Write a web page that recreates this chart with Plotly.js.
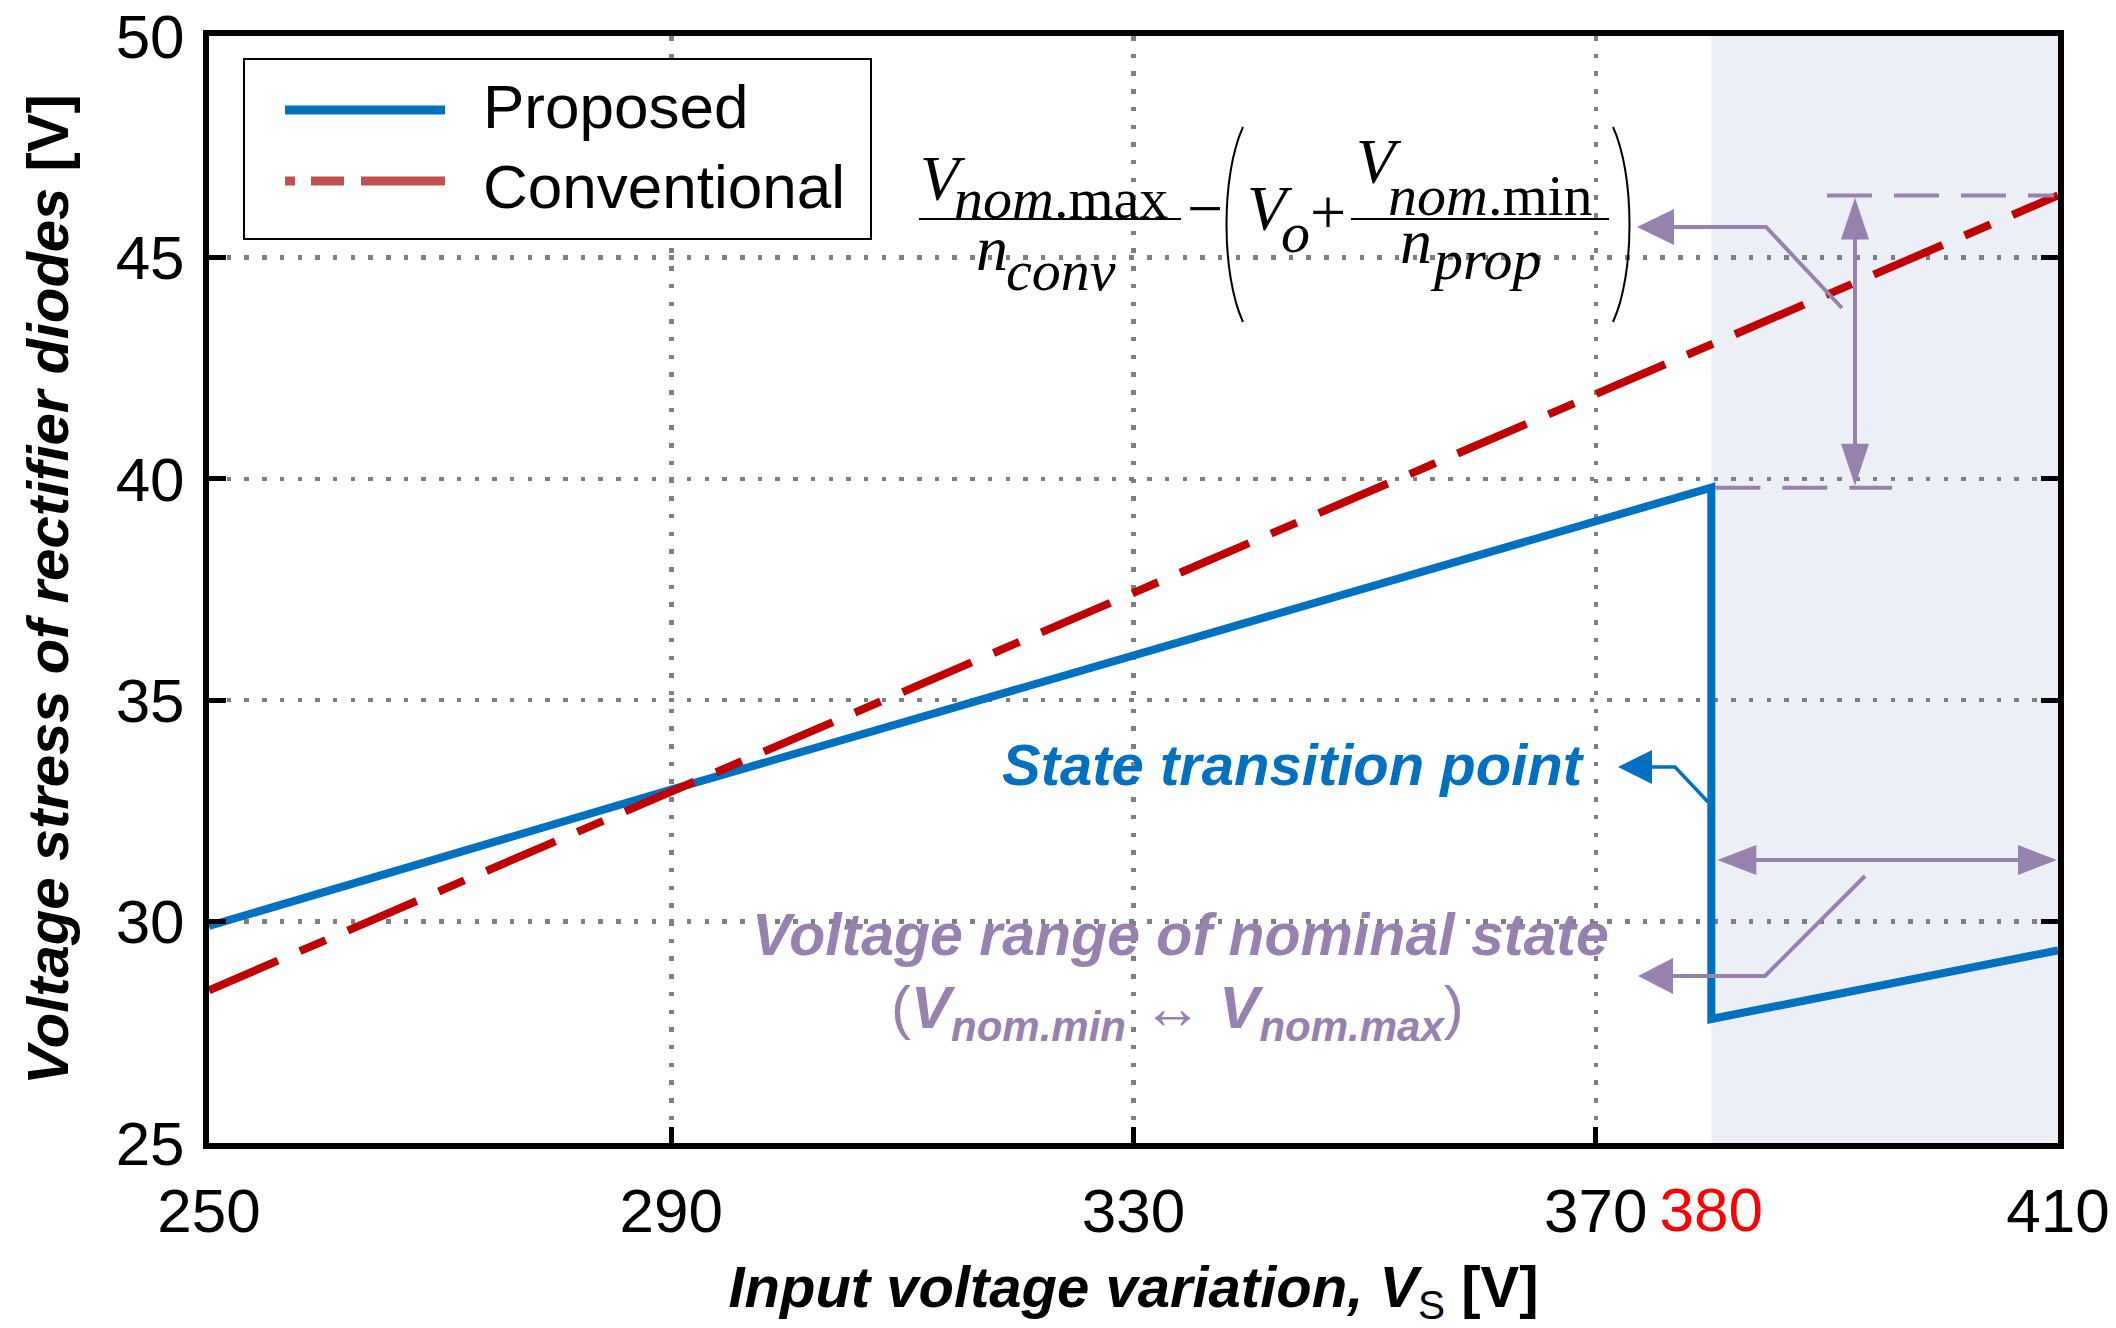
<!DOCTYPE html>
<html><head><meta charset="utf-8">
<script src="https://cdn.plot.ly/plotly-3.0.1.min.js"></script>
<style>html,body{margin:0;padding:0;background:#fff}</style>
</head><body><div id="chart" style="width:2116px;height:1328px"></div>
<script>
// ---- data ----
const proposedX = [250, 290, 380, 380, 410];
const proposedY = [29.9, 32.98, 39.8, 27.8, 29.35];
const conventionalX = [250, 410];
const conventionalY = [28.45, 46.4];
const xTickVals = [250, 290, 330, 370, 410];
const xTickText = ['250', '290', '330', '370', '410'];
const transitionTickVals = [380];
const transitionTickText = ['380'];
const yTickVals = [25, 30, 35, 40, 45, 50];
const yTickText = ['25', '30', '35', '40', '45', '50'];
const seriesNames = ['Proposed', 'Conventional'];
const xRange = [250, 410];
const yRange = [25, 50];

// ---- geometry helpers ----
const W = 2116, H = 1328, ML = 209, MR = 58, MT = 36, MB = 185;
const PW = W - ML - MR, PH = H - MT - MB;
const px = v => (v - ML) / PW;
const py = v => 1 - (v - MT) / PH;
const xPix = v => ML + (v - xRange[0]) / (xRange[1] - xRange[0]) * PW;
const yPix = v => MT + (yRange[1] - v) / (yRange[1] - yRange[0]) * PH;

const SANS = 'Liberation Sans, Arial, sans-serif';
const SERIF = 'Liberation Serif, Times New Roman, serif';
const BLUE = '#0070C0', RED = '#C00000', LEGRED = '#C0504D', PURPLE = '#9781AF';

const annotations = [];
const shapes = [];

function txt(text, x, baseline, size, opt) {
  opt = opt || {};
  const serif = opt.serif;
  const c = serif ? 0.3375 : 0.3465;
  annotations.push({
    xref: 'paper', yref: 'paper', x: px(x), y: py(baseline - c * size),
    xanchor: opt.anchor || 'left', yanchor: 'middle', showarrow: false,
    borderpad: 0, align: opt.align || 'center',
    text: text,
    font: {family: serif ? SERIF : SANS, size: size, color: opt.color || '#000'}
  });
}
function poly(points, color, width, dash, closed, fill) {
  let d = points.map((p, i) => (i ? 'L' : 'M') + px(p[0]) + ',' + py(p[1])).join(' ');
  if (closed) d += ' Z';
  const s = {type: 'path', xref: 'paper', yref: 'paper', path: d, layer: 'above',
             line: {color: color, width: width}};
  if (dash) s.line.dash = dash;
  if (fill) { s.fillcolor = fill; s.line.width = 0; }
  shapes.push(s);
}
function curve(d, color, width) {
  shapes.push({type: 'path', xref: 'paper', yref: 'paper', path: d, layer: 'above',
               line: {color: color, width: width}});
}
function head(tip, dir, len, half, color) {
  const [x, y] = tip;
  let pts;
  if (dir === 'left') pts = [[x, y], [x + len, y - half], [x + len, y + half]];
  if (dir === 'right') pts = [[x, y], [x - len, y - half], [x - len, y + half]];
  if (dir === 'up') pts = [[x, y], [x - half, y + len], [x + half, y + len]];
  if (dir === 'down') pts = [[x, y], [x - half, y - len], [x + half, y - len]];
  poly(pts, color, 0, null, true, color);
}

// ---- nominal-state shading ----
shapes.push({type: 'rect', xref: 'x', yref: 'paper', x0: transitionTickVals[0], x1: xRange[1],
             y0: 0, y1: 1, fillcolor: '#ECF0F6', line: {width: 0}, layer: 'below'});

// ---- legend (drawn by hand for long line samples) ----
shapes.push({type: 'rect', xref: 'paper', yref: 'paper', x0: px(244), x1: px(871), y0: py(239), y1: py(59),
             fillcolor: '#ffffff', line: {color: '#000', width: 2}, layer: 'above'});
poly([[285, 110], [445, 110]], BLUE, 9);
poly([[285, 181], [445, 181]], LEGRED, 9, '10px,16px,33px,17px,85px,60px');
txt(seriesNames[0], 482, 128, 62);
txt(seriesNames[1], 482, 208, 62);

// ---- formula ----
txt('<i>V</i>', 919, 200, 64, {serif: true});
txt('<i>nom</i>.max', 953, 218, 58, {serif: true});
poly([[919, 219], [1181, 219]], '#000', 2);
txt('<i>n</i>', 975, 270, 64, {serif: true});
txt('<i>conv</i>', 1005, 290, 58, {serif: true});
txt('\u2212', 1205, 230, 64, {serif: true, anchor: 'center'});
curve('M' + px(1243) + ',' + py(127) + ' C' + px(1221) + ',' + py(175) + ' ' + px(1221) + ',' + py(274) + ' ' + px(1243) + ',' + py(322), '#000', 2);
txt('<i>V</i>', 1246, 230, 64, {serif: true});
txt('<i>o</i>', 1280, 252, 58, {serif: true});
txt('+', 1328, 234, 64, {serif: true, anchor: 'center'});
poly([[1351, 219], [1609, 219]], '#000', 2);
txt('<i>V</i>', 1355, 183, 64, {serif: true});
txt('<i>nom</i>.min', 1387, 215, 58, {serif: true});
txt('<i>n</i>', 1399, 263, 64, {serif: true});
txt('<i>prop</i>', 1429, 279, 58, {serif: true});
curve('M' + px(1613) + ',' + py(127) + ' C' + px(1635) + ',' + py(175) + ' ' + px(1635) + ',' + py(274) + ' ' + px(1613) + ',' + py(322), '#000', 2);

// ---- purple dimension arrows tied to data ----
const yTop = yPix(conventionalY[1]);
const yBot = yPix(proposedY[2]);
const xT = xPix(transitionTickVals[0]);
const xEnd = xPix(xRange[1]);
poly([[1827, yTop], [xEnd - 4, yTop]], PURPLE, 4, '45px,22px');
poly([[xT + 4, yBot], [1892, yBot]], PURPLE, 4, '45px,22px');
poly([[1855, yTop + 40], [1855, yBot - 40]], PURPLE, 4);
head([1855, yTop + 2], 'up', 42, 14, PURPLE);
head([1855, yBot - 2], 'down', 42, 14, PURPLE);
poly([[1842, 308], [1766, 227], [1670, 227]], PURPLE, 4);
head([1637, 227], 'left', 37, 18, PURPLE);
const yR = 860;
poly([[xT + 40, yR], [xEnd - 40, yR]], PURPLE, 4);
head([xT + 6, yR], 'left', 39, 15, PURPLE);
head([xEnd - 1, yR], 'right', 39, 15, PURPLE);
poly([[1865, 876], [1765, 976], [1670, 976]], PURPLE, 4);
head([1638, 976], 'left', 35, 18, PURPLE);
poly([[1708, 802], [1675, 767], [1648, 767]], BLUE, 3.5);
head([1618, 767], 'left', 34, 17, BLUE);

// ---- text labels ----
txt('<b><i>State transition point</i></b>', 1586, 785, 58, {color: BLUE, anchor: 'right'});
txt('<b><i>Voltage range of nominal state</i></b>', 1180, 955, 59, {color: PURPLE, anchor: 'center'});
txt('(<b><i>V</i></b><sub><b><i>nom.min</i></b></sub> \u2194 <b><i>V</i></b><sub><b><i>nom.max</i></b></sub>)', 1177, 1033, 60, {color: PURPLE, anchor: 'center'});

const traces = [
  {x: proposedX, y: proposedY, mode: 'lines', name: seriesNames[0], showlegend: false,
   line: {color: BLUE, width: 8}, hoverinfo: 'skip'},
  {x: conventionalX, y: conventionalY, mode: 'lines', name: seriesNames[1], showlegend: false,
   line: {color: RED, width: 8, dash: '75px,24px,28px,24px'}, hoverinfo: 'skip'},
  {x: transitionTickVals, y: [null], xaxis: 'x2', yaxis: 'y', mode: 'lines', showlegend: false, hoverinfo: 'skip'}
];

const tickFont = {family: SANS, size: 62, color: '#000'};
const layout = {
  width: W, height: H,
  margin: {l: ML, r: MR, t: MT, b: MB, pad: 0},
  paper_bgcolor: '#fff', plot_bgcolor: 'rgba(0,0,0,0)',
  showlegend: false,
  xaxis: {
    range: xRange, tickmode: 'array', tickvals: xTickVals, ticktext: xTickText,
    showgrid: true, gridcolor: '#7F7F7F', gridwidth: 4.5, griddash: '4.5px,13.2px',
    showline: true, linecolor: '#000', linewidth: 6, mirror: true,
    ticks: 'inside', ticklen: 16, tickwidth: 5, tickcolor: '#000',
    tickfont: tickFont, ticklabelstandoff: 9, zeroline: false, automargin: false,
    title: {text: '<b><i>Input voltage variation, V</i></b><sub>S</sub> <b>[V]</b>',
            font: {family: SANS, size: 58, color: '#000'}, standoff: 28}
  },
  xaxis2: {
    range: xRange, overlaying: 'x', anchor: 'y', side: 'bottom', tickmode: 'array',
    tickvals: transitionTickVals, ticktext: transitionTickText,
    showgrid: false, showline: false, zeroline: false, ticks: '',
    tickfont: {family: SANS, size: 62, color: '#FF0000'}, ticklabelstandoff: 25, automargin: false
  },
  yaxis: {
    range: yRange, tickmode: 'array', tickvals: yTickVals, ticktext: yTickText,
    showgrid: true, gridcolor: '#7F7F7F', gridwidth: 4.5, griddash: '4.5px,13.2px',
    showline: true, linecolor: '#000', linewidth: 6, mirror: 'ticks',
    ticks: 'inside', ticklen: 17, tickwidth: 5, tickcolor: '#000',
    tickfont: tickFont, ticklabelstandoff: 6, zeroline: false, automargin: false,
    title: {text: '<b><i>Voltage stress of rectifier diodes</i> [V]</b>',
            font: {family: SANS, size: 58, color: '#000'}, standoff: 30}
  },
  shapes: shapes,
  annotations: annotations
};

Plotly.newPlot('chart', traces, layout, {displayModeBar: false, staticPlot: true});
</script>
</body></html>
